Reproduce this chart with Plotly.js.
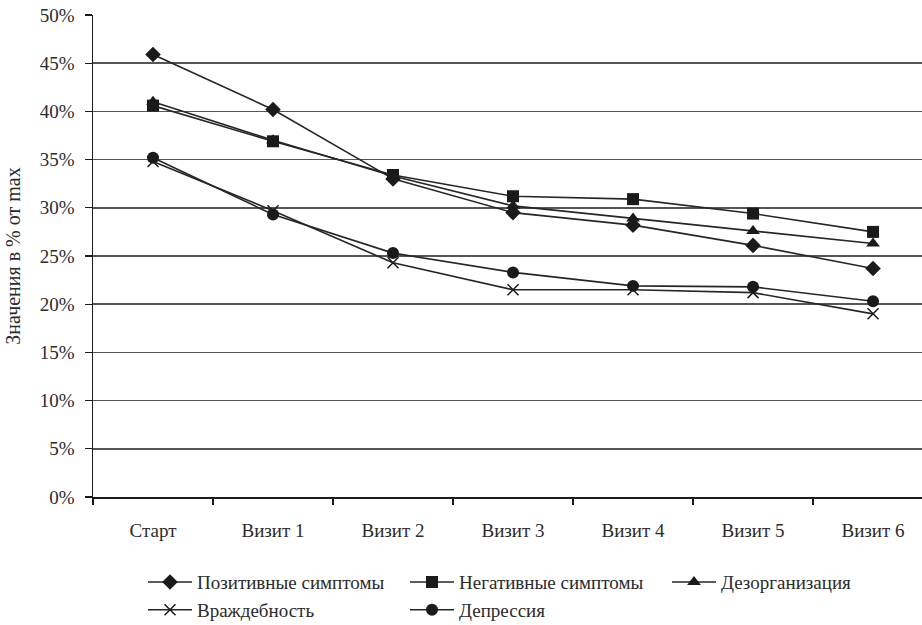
<!DOCTYPE html>
<html>
<head>
<meta charset="utf-8">
<script src="https://cdn.plot.ly/plotly-3.0.1.min.js"></script>
<style>
  html, body { margin: 0; padding: 0; background: #fff; overflow: hidden; }
  #chart { width: 922px; height: 625px; }
</style>
</head>
<body>
<div id="chart"></div>
<script>
// Visit labels along the x axis
const visits = ['Старт', 'Визит 1', 'Визит 2', 'Визит 3', 'Визит 4', 'Визит 5', 'Визит 6'];

// Scale scores, % of maximum
const positive     = [45.9, 40.2, 33.0, 29.5, 28.2, 26.1, 23.7];
const negative     = [40.6, 36.9, 33.4, 31.2, 30.9, 29.4, 27.5];
const disorganized = [41.0, 37.0, 33.3, 30.2, 28.9, 27.6, 26.3];
const hostility    = [34.8, 29.7, 24.3, 21.5, 21.5, 21.2, 19.0];
const depression   = [35.2, 29.3, 25.3, 23.3, 21.9, 21.8, 20.3];

const seriesNames = ['Позитивные симптомы', 'Негативные симптомы', 'Дезорганизация', 'Враждебность', 'Депрессия'];

const serif = 'Liberation Serif, Times New Roman, serif';
const ink = '#1a1a1a';
const textColor = '#2b2b2b';

function series(name, values, symbol, size, extra) {
  return Object.assign({
    type: 'scatter',
    mode: 'lines+markers',
    name: name,
    x: visits,
    y: values,
    line: { color: '#262626', width: 1.6 },
    marker: { symbol: symbol, size: size, color: ink, line: { color: ink, width: 0 } },
    hoverinfo: 'skip'
  }, extra || {});
}

const traces = [
  series(seriesNames[0], positive, 'diamond', 12),
  series(seriesNames[1], negative, 'square', 12),
  series(seriesNames[2], disorganized, 'triangle-up', 12),
  series(seriesNames[3], hostility, 'x-thin', 11, {
    marker: { symbol: 'x-thin', size: 11, color: ink, line: { color: ink, width: 1.5 } }
  }),
  series(seriesNames[4], depression, 'circle', 12)
];

const layout = {
  width: 922,
  height: 625,
  margin: { l: 93, r: 0, t: 15, b: 128 },
  paper_bgcolor: '#fff',
  plot_bgcolor: '#fff',
  font: { family: serif, size: 19, color: textColor },
  showlegend: true,
  legend: {
    orientation: 'h',
    xref: 'container', yref: 'container',
    x: 143 / 922, xanchor: 'left',
    y: 0.099, yanchor: 'top',
    entrywidth: 203, entrywidthmode: 'pixels',
    itemwidth: 44,
    font: { family: serif, size: 19, color: textColor },
    tracegroupgap: 0,
    bgcolor: 'rgba(0,0,0,0)'
  },
  xaxis: {
    type: 'category',
    range: [-0.5, 6.408],
    showgrid: false,
    showline: true, linecolor: ink, linewidth: 1.5,
    ticks: 'outside', tickson: 'boundaries', ticklen: 6, tickcolor: ink, tickwidth: 1.3,
    ticklabelstandoff: 16,
    tickfont: { family: serif, size: 19, color: textColor },
    zeroline: false,
    fixedrange: true
  },
  yaxis: {
    range: [0, 50],
    dtick: 5,
    ticksuffix: '%',
    showgrid: true, gridcolor: '#555', gridwidth: 1.5,
    showline: true, linecolor: ink, linewidth: 1.5,
    ticks: 'outside', ticklen: 7, tickcolor: ink, tickwidth: 1.3,
    ticklabelstandoff: 6,
    tickfont: { family: serif, size: 19, color: textColor },
    zeroline: false,
    automargin: false,
    title: { text: 'Значения в % от max', font: { family: serif, size: 20, color: textColor }, standoff: 14 },
    fixedrange: true
  }
};

Plotly.newPlot('chart', traces, layout, { displayModeBar: false, staticPlot: true });
</script>
</body>
</html>
